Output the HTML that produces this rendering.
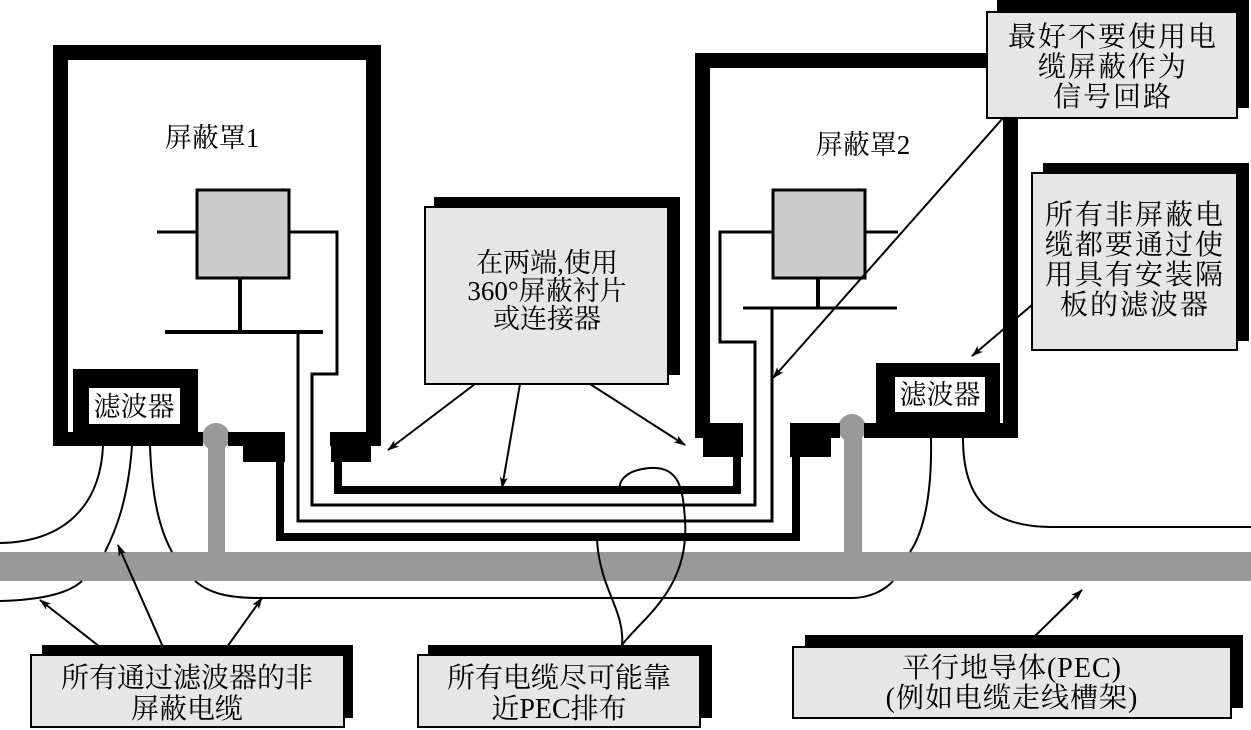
<!DOCTYPE html>
<html><head><meta charset="utf-8"><style>
html,body{margin:0;padding:0;background:#fff;}
svg{display:block;}
text{font-family:"Liberation Serif","Noto Serif CJK SC",serif;fill:#000;}
</style></head><body>
<svg width="1251" height="730" viewBox="0 0 1251 730" xmlns="http://www.w3.org/2000/svg">
<defs>
<marker id="ah" viewBox="0 0 12 8" refX="11" refY="4" markerWidth="12" markerHeight="8" markerUnits="userSpaceOnUse" orient="auto">
<path d="M0,0 L12,4 L0,8 L3,4 z" fill="#000"/>
</marker>
</defs>
<rect width="1251" height="730" fill="#fff"/>

<!-- PEC bar -->
<rect x="0" y="552" width="1251" height="29" fill="#999"/>
<!-- ground stubs -->
<rect x="208" y="437" width="17" height="116" fill="#999"/>
<circle cx="216" cy="437" r="14" fill="#999"/>
<rect x="844" y="428" width="18" height="125" fill="#999"/>
<circle cx="852" cy="428" r="14" fill="#999"/>

<!-- Shield 1 -->
<rect x="53" y="45" width="328" height="15" fill="#000"/>
<rect x="53" y="45" width="15" height="401" fill="#000"/>
<rect x="366" y="45" width="15" height="401" fill="#000"/>
<rect x="53" y="432" width="150" height="14" fill="#000"/>
<rect x="228" y="432" width="57" height="14" fill="#000"/>
<rect x="243" y="446" width="42" height="16" fill="#000"/>
<rect x="330" y="432" width="51" height="14" fill="#000"/>
<rect x="331" y="446" width="40" height="16" fill="#000"/>
<rect x="73" y="369" width="125" height="77" fill="#000"/>
<rect x="89" y="388" width="91" height="36" fill="#fff"/>
<text x="134" y="416" font-size="27" text-anchor="middle">滤波器</text>
<text x="212" y="147" font-size="27" text-anchor="middle">屏蔽罩1</text>
<rect x="197" y="190" width="92" height="88" fill="#ccc" stroke="#000" stroke-width="3"/>
<line x1="157" y1="232" x2="197" y2="232" stroke="#000" stroke-width="3"/>
<line x1="240" y1="278" x2="240" y2="332" stroke="#000" stroke-width="4"/>
<line x1="165" y1="332" x2="323" y2="332" stroke="#000" stroke-width="4"/>

<!-- Shield 2 -->
<rect x="695" y="53" width="310" height="15" fill="#000"/>
<rect x="695" y="53" width="15" height="385" fill="#000"/>
<rect x="1003" y="53" width="15" height="385" fill="#000"/>
<rect x="695" y="423" width="48" height="15" fill="#000"/>
<rect x="703" y="438" width="40" height="19" fill="#000"/>
<rect x="790" y="423" width="50" height="15" fill="#000"/>
<rect x="864" y="423" width="154" height="15" fill="#000"/>
<rect x="790" y="438" width="41" height="19" fill="#000"/>
<rect x="876" y="363" width="124" height="75" fill="#000"/>
<rect x="895" y="377" width="90" height="35" fill="#fff"/>
<text x="940" y="404" font-size="27" text-anchor="middle">滤波器</text>
<text x="863" y="154" font-size="27" text-anchor="middle">屏蔽罩2</text>
<rect x="773" y="190" width="92" height="88" fill="#ccc" stroke="#000" stroke-width="3"/>
<line x1="865" y1="232" x2="898" y2="232" stroke="#000" stroke-width="3"/>
<line x1="818" y1="278" x2="818" y2="308" stroke="#000" stroke-width="4"/>
<line x1="743" y1="308" x2="897" y2="308" stroke="#000" stroke-width="3"/>

<!-- cables -->
<polyline points="338,462 338,490 737,490 737,457" fill="none" stroke="#000" stroke-width="8"/>
<polyline points="280,462 280,537 796,537 796,457" fill="none" stroke="#000" stroke-width="8"/>
<polyline points="298,332 298,521 772,521 772,308" fill="none" stroke="#000" stroke-width="3"/>
<polyline points="289,232 337,232 337,374 312,374 312,505 755,505 755,342 720,342 720,232 773,232" fill="none" stroke="#000" stroke-width="3"/>

<!-- thin unshielded cables -->
<g fill="none" stroke="#000" stroke-width="2">
<path d="M103 446 C100 510 60 542 0 543"/>
<path d="M132 446 C128 500 116 530 105 552"/>
<path d="M150 446 C152 500 160 530 172 552"/>
<path d="M0 601 C40 600 68 594 82 581"/>
<path d="M195 581 C210 594 230 598 260 598 L852 598 C870 598 885 590 893 581"/>
<path d="M931 438 C932 490 925 530 910 552"/>
<path d="M963 438 C963 500 990 526 1050 527 L1251 527"/>
<path d="M597 540 C600 590 625 610 622 645"/>
<path d="M622 645 C640 620 690 590 685 520 C683 490 680 466 650 468 C625 470 618 482 620 490"/>
</g>

<!-- callout: 360 -->
<rect x="434" y="197" width="246" height="178" fill="#000"/>
<rect x="425" y="207" width="243" height="177" fill="#e6e6e6" stroke="#000" stroke-width="2"/>
<text font-size="27" text-anchor="middle"><tspan x="547" y="272">在两端,使用</tspan><tspan x="547" y="300">360°屏蔽衬片</tspan><tspan x="547" y="328">或连接器</tspan></text>

<!-- callout top right -->
<rect x="997" y="0" width="252" height="108" fill="#000"/>
<rect x="987" y="12" width="250" height="106" fill="#e6e6e6" stroke="#000" stroke-width="2"/>
<text font-size="28" text-anchor="middle" letter-spacing="2"><tspan x="1113" y="46">最好不要使用电</tspan><tspan x="1113" y="76">缆屏蔽作为</tspan><tspan x="1113" y="106">信号回路</tspan></text>

<!-- callout right -->
<rect x="1043" y="163" width="206" height="178" fill="#000"/>
<rect x="1032" y="173" width="205" height="177" fill="#e6e6e6" stroke="#000" stroke-width="2"/>
<text font-size="28" text-anchor="middle" letter-spacing="2"><tspan x="1135" y="224">所有非屏蔽电</tspan><tspan x="1135" y="254">缆都要通过使</tspan><tspan x="1135" y="284">用具有安装隔</tspan><tspan x="1135" y="314">板的滤波器</tspan></text>

<!-- bottom callouts -->
<rect x="42" y="645" width="311" height="73" fill="#000"/>
<rect x="31" y="655" width="313" height="72" fill="#e6e6e6" stroke="#000" stroke-width="2"/>
<text font-size="28" text-anchor="middle"><tspan x="187" y="687">所有通过滤波器的非</tspan><tspan x="187" y="718">屏蔽电缆</tspan></text>

<rect x="428" y="645" width="284" height="73" fill="#000"/>
<rect x="418" y="655" width="282" height="72" fill="#e6e6e6" stroke="#000" stroke-width="2"/>
<text font-size="28" text-anchor="middle"><tspan x="559" y="687">所有电缆尽可能靠</tspan><tspan x="559" y="718">近PEC排布</tspan></text>

<rect x="805" y="635" width="438" height="73" fill="#000"/>
<rect x="793" y="647" width="438" height="71" fill="#e6e6e6" stroke="#000" stroke-width="2"/>
<text font-size="28" text-anchor="middle" letter-spacing="1"><tspan x="1012" y="677">平行地导体(PEC)</tspan><tspan x="1012" y="707">(例如电缆走线槽架)</tspan></text>

<!-- arrows -->
<g stroke="#000" stroke-width="2" marker-end="url(#ah)">
<line x1="475" y1="384" x2="388" y2="450"/>
<line x1="520" y1="384" x2="502" y2="488"/>
<line x1="590" y1="384" x2="685" y2="445"/>
<line x1="1003" y1="118" x2="773" y2="378"/>
<line x1="1032" y1="305" x2="972" y2="356"/>
<line x1="100" y1="647" x2="40" y2="600"/>
<line x1="163" y1="647" x2="118" y2="545"/>
<line x1="227" y1="647" x2="262" y2="598"/>
<line x1="1035" y1="636" x2="1082" y2="590"/>
</g>
</svg>
</body></html>
